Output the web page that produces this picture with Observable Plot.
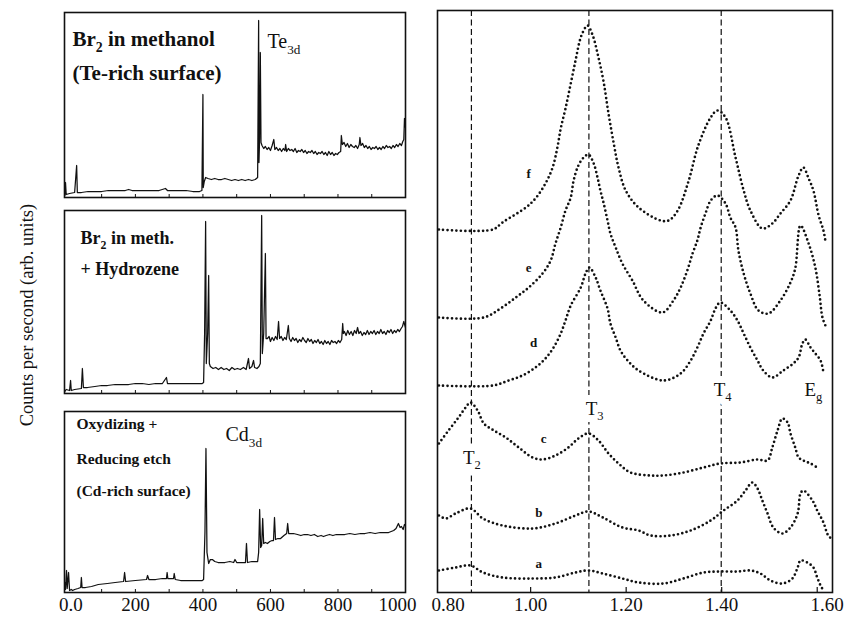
<!DOCTYPE html>
<html><head><meta charset="utf-8">
<script src="https://cdn.jsdelivr.net/npm/d3@7"></script>
<script src="https://cdn.jsdelivr.net/npm/@observablehq/plot@0.6"></script>
<style>
body{margin:0;background:#fff;}
#chart{position:relative;width:856px;height:623px;font-family:"Liberation Serif","Times New Roman",Times,serif;overflow:hidden;}
#chart svg{position:absolute;overflow:visible;}
#chart svg text{font-family:"Liberation Serif","Times New Roman",Times,serif;}
#ylabel{position:absolute;left:-123px;top:304px;width:300px;height:22px;line-height:22px;text-align:center;font-size:18.5px;transform:rotate(-90deg);transform-origin:150px 11px;white-space:nowrap;color:#111;}
</style></head><body><div id="chart"><div id="ylabel">Counts per second (arb. units)</div></div>
<script>
// ---------- Left: survey spectra (binding energy, eV) ----------
const leftTicks = [0, 200, 400, 600, 800, 1000];

const teRich_energy = [-9,-7,-5,5,20,26,28,40,60,80,100,120,150,170,180,190,210,230,250,270,289,295,320,350,370,390,397,400,401,404,408,415,425,435,445,455,465,475,485,495,505,515,525,535,545,555,562,565,566,568,570,572,575,580,585,590,595,600,605,610,613,618,623,628,633,638,643,645,648,653,658,663,668,673,678,683,688,693,698,703,708,713,718,723,728,733,738,743,748,753,758,763,768,773,778,783,788,793,798,803,808,810,813,818,823,828,833,838,843,848,853,858,863,865,868,873,878,883,888,893,898,903,908,913,918,923,928,933,938,943,948,953,958,963,968,973,978,983,988,992,995,997,1000];
const teRich_counts = [2,15,3,4,5,32,5,5,6,6,6,7,7,7,8,7,7,7,7,7,9,7,7,7,6,6,7,103,10,16,20,19,18,19,18,18,19,18,17,18,17,18,17,18,17,18,20,177,35,60,145,55,52,49,51,48,50,47,52,58,48,50,47,49,46,49,47,53,46,49,47,48,46,49,45,47,46,48,45,47,44,46,45,47,44,46,43,45,44,46,43,45,42,46,43,45,42,44,43,45,46,62,53,55,51,54,50,53,51,50,52,49,53,60,52,54,50,52,49,51,48,50,49,51,48,50,48,51,49,52,50,51,49,52,50,53,51,54,52,56,58,79,70];

const hydr_energy = [-9,-5,5,8,10,20,40,43,46,58,80,100,117,140,160,180,200,220,240,260,280,292,295,320,340,360,380,398,402,405,408,410,414,417,419,422,430,438,446,454,462,470,478,486,494,502,511,520,528,535,538,545,550,553,560,566,570,574,576,580,585,587,591,596,600,605,610,615,620,624,627,632,637,642,647,653,656,661,666,671,676,681,686,691,696,701,706,711,716,721,726,731,736,741,746,751,756,761,766,771,776,781,786,791,796,801,806,811,814,816,819,824,829,834,839,844,849,854,858,862,867,872,877,882,887,892,897,902,907,912,917,922,927,932,937,942,947,952,957,962,967,972,977,982,987,991,995,1000];
const hydr_counts = [2,4,3,13,3,4,5,25,6,6,7,8,8,9,9,9,10,10,9,10,10,16,10,10,10,10,10,10,11,60,172,30,60,118,30,27,25,26,24,26,24,25,23,26,24,25,24,26,24,35,25,27,33,26,25,27,30,178,40,60,140,55,55,57,52,56,53,57,54,72,55,57,53,56,54,68,55,52,56,53,55,51,54,52,56,53,51,55,52,54,50,53,51,54,50,52,49,53,50,52,49,53,51,52,50,53,51,54,70,60,62,58,63,59,62,58,63,60,66,60,62,58,61,59,63,59,62,60,63,59,62,60,64,60,62,59,63,61,64,60,63,61,64,62,65,67,72,66];

const cdRich_energy = [-9,-7,-4,-2,2,5,10,14,20,30,38,40,42,52,70,90,117,140,165,168,171,200,233,236,240,260,280,292,294,296,313,315,318,334,360,380,398,402,406,409,412,417,422,428,435,445,452,465,480,491,495,500,510,520,526,529,532,545,555,562,565,568,571,574,577,580,585,591,598,605,609,612,615,622,630,640,648,651,654,660,668,680,690,700,710,720,730,740,750,757,765,775,785,795,808,820,835,850,867,880,895,910,925,940,950,965,972,979,984,988,993,997,1000];
const cdRich_counts = [10,3,22,4,20,2,3,2,3,4,5,15,5,5,6,8,9,10,11,20,11,12,13,17,13,13,14,14,20,14,14,19,13,12,12,12,12,13,60,144,40,29,33,33,31,30,30,30,31,30,33,30,30,30,30,49,30,31,31,31,40,83,45,47,74,49,50,49,51,52,52,75,53,54,54,57,59,69,59,59,59,58,57,58,58,57,58,56,57,56,57,58,57,58,58,58,59,58,59,59,60,59,60,60,60,62,64,69,65,66,63,68,67];

const panelTitles1 = ["Br_2 in methanol", "(Te-rich surface)"];
const panelPeak1 = "Te_3d";
const panelTitles2 = ["Br_2 in meth.", "+ Hydrozene"];
const panelTitles3 = ["Oxydizing +", "Reducing etch", "(Cd-rich surface)"];
const panelPeak3 = "Cd_3d";

// ---------- Right: spectra a-f (photon energy, eV) ----------
const rightTicks = [0.80, 1.00, 1.20, 1.40, 1.60];

const a_energy = [0.808,0.843,0.874,0.900,0.941,1.004,1.052,1.094,1.121,1.151,1.192,1.226,1.278,1.320,1.362,1.397,1.433,1.460,1.481,1.502,1.527,1.548,1.559,1.565,1.579,1.592,1.600,1.607,1.613];
const a_counts = [22,25,27,20,15,14,15,20,22,19,14,10,9,14,20,21,21,22,19,12,9,14,25,32,30,25,15,7,2];

const b_energy = [0.808,0.822,0.843,0.874,0.900,0.941,1.004,1.052,1.094,1.121,1.151,1.192,1.226,1.251,1.293,1.335,1.377,1.404,1.433,1.450,1.464,1.475,1.485,1.496,1.508,1.527,1.544,1.559,1.565,1.571,1.590,1.600,1.613,1.623,1.632];
const b_counts = [77,74,79,84,74,67,64,69,77,81,75,65,62,57,57,62,72,82,92,102,110,104,92,79,65,59,65,79,99,102,92,82,70,57,53];

const c_energy = [0.808,0.828,0.849,0.864,0.874,0.889,0.902,0.923,0.948,0.975,1.004,1.025,1.052,1.079,1.100,1.121,1.142,1.163,1.184,1.209,1.251,1.278,1.320,1.362,1.397,1.439,1.475,1.496,1.506,1.517,1.527,1.538,1.544,1.554,1.561,1.571,1.586,1.603];
const c_counts = [149,162,175,185,190,182,169,162,155,145,135,133,137,145,154,159,152,139,129,120,117,117,120,125,129,130,133,132,145,162,174,170,159,145,135,132,129,124];

const d_energy = [0.808,0.921,0.954,0.983,1.010,1.031,1.048,1.063,1.073,1.084,1.105,1.115,1.123,1.136,1.146,1.161,1.167,1.178,1.188,1.203,1.226,1.278,1.314,1.335,1.349,1.362,1.377,1.387,1.397,1.418,1.433,1.446,1.460,1.475,1.487,1.506,1.529,1.550,1.561,1.569,1.575,1.586,1.596,1.607,1.613];
const d_counts = [207,207,212,217,225,234,245,259,272,287,305,319,325,315,302,284,269,255,242,232,222,212,219,232,245,259,272,284,290,282,272,259,245,232,222,215,222,229,235,249,253,245,239,232,220];

const e_energy = [0.808,0.902,0.937,0.969,0.996,1.025,1.042,1.052,1.063,1.073,1.084,1.090,1.100,1.111,1.121,1.132,1.140,1.146,1.153,1.161,1.167,1.178,1.192,1.213,1.236,1.276,1.299,1.314,1.328,1.339,1.349,1.356,1.366,1.377,1.391,1.408,1.418,1.429,1.435,1.446,1.460,1.477,1.498,1.523,1.544,1.554,1.565,1.582,1.596,1.605,1.611,1.619];
const e_counts = [275,275,284,295,305,319,332,349,365,382,395,412,427,435,438,429,415,402,389,372,359,345,329,312,292,280,292,305,322,339,352,365,379,392,397,389,375,365,342,319,299,282,279,292,310,324,367,349,325,297,275,265];

const f_energy = [0.808,0.921,0.941,0.990,1.010,1.031,1.046,1.056,1.063,1.073,1.084,1.094,1.103,1.109,1.119,1.130,1.142,1.153,1.163,1.174,1.184,1.199,1.226,1.272,1.289,1.308,1.331,1.351,1.377,1.391,1.408,1.429,1.446,1.460,1.485,1.506,1.523,1.544,1.561,1.571,1.582,1.592,1.603,1.613,1.617];
const f_counts = [363,363,370,385,394,409,425,445,464,484,509,532,552,560,567,557,535,510,479,449,425,402,385,372,372,382,412,447,475,482,475,435,402,382,364,369,379,392,417,425,414,402,377,362,352];

const curveNames = ["a", "b", "c", "d", "e", "f"];
const curveLabelEnergy = [1.017, 1.017, 1.027, 1.006, 0.996, 0.996];
const curveLabelCounts = [29, 80, 154, 250, 325, 419];

const transitionEnergy = [0.876, 1.122, 1.399];
const transitionNames = ["T_2", "T_3", "T_4", "E_g"];
const transitionLabelEnergy = [0.877, 1.134, 1.402, 1.592];
const transitionLabelCounts = [135, 184, 203, 203];

// ---------- helpers ----------
const FONT = '"Liberation Serif", "Times New Roman", Times, serif';
const chart = document.getElementById("chart");

function subscripts(svg) {
  d3.select(svg).selectAll("text").each(function () {
    const t = this.textContent;
    if (!t.includes("_")) return;
    const fs = parseFloat(getComputedStyle(this).fontSize) || 16;
    const parts = t.split(/_([0-9a-z]+)/);
    this.textContent = "";
    let shift = 0;
    parts.forEach((p, i) => {
      if (!p) return;
      const ts = d3.select(this).append("tspan").text(p);
      if (i % 2) {
        ts.attr("font-size", fs * 0.66).attr("dy", fs * 0.28 - shift);
        shift = fs * 0.28;
      } else if (shift) {
        ts.attr("dy", -shift);
        shift = 0;
      }
    });
  });
}

function place(svg, left, top) {
  svg.style.left = left + "px";
  svg.style.top = top + "px";
  chart.appendChild(svg);
  subscripts(svg);
}

const axisOpts = {tickSize: 0, tickPadding: 5, fontSize: 19, label: null};

function leftPanel({energy, counts, ymax, height, titles, titleSize, titleDy, titleDx, peak, peakDx, peakDy, axis}) {
  const data = energy.map((e, i) => ({e, c: counts[i]}));
  const marks = [
    Plot.frame({strokeWidth: 1.6}),
    Plot.ruleX(d3.range(100, 1000, 100), {x: d => d, y1: 0, y2: 3, strokeWidth: 1}),
    Plot.line(data, {x: "e", y: "c", strokeWidth: 1.25, clip: true}),
    ...titles.map((t, i) => Plot.text([t], {
      text: d => d, frameAnchor: "top-left", dx: titleDx, dy: titleDy[i],
      textAnchor: "start", lineAnchor: "middle", fontSize: titleSize, fontWeight: "bold"
    }))
  ];
  if (peak) marks.push(Plot.text([peak], {
    text: d => d, frameAnchor: "top-left", dx: peakDx, dy: peakDy,
    textAnchor: "start", lineAnchor: "middle", fontSize: 20
  }));
  if (axis) {
    marks.push(Plot.axisX(leftTicks.slice(1, 5), {...axisOpts, tickFormat: d => String(d)}));
    marks.push(Plot.axisX([leftTicks[0]], {...axisOpts, dx: 3, tickFormat: d => d.toFixed(1)}));
    marks.push(Plot.axisX([leftTicks[5]], {...axisOpts, dx: -8, tickFormat: d => String(d)}));
  }
  return Plot.plot({
    width: 420, height,
    marginLeft: 64, marginRight: 15, marginTop: 2, marginBottom: axis ? 31 : 2,
    x: {domain: [-10, 1000], axis: null, label: null},
    y: {domain: [0, ymax], axis: null, label: null},
    style: {fontFamily: FONT, color: "#111", background: "transparent", overflow: "visible"},
    marks
  });
}

// panel 1
place(leftPanel({
  energy: teRich_energy, counts: teRich_counts, ymax: 185, height: 189,
  titles: panelTitles1, titleSize: 21, titleDx: 8, titleDy: [27, 61],
  peak: panelPeak1, peakDx: 203, peakDy: 29
}), 0, 10);
// panel 2
place(leftPanel({
  energy: hydr_energy, counts: hydr_counts, ymax: 183, height: 187,
  titles: panelTitles2, titleSize: 18, titleDx: 16, titleDy: [28, 59]
}), 0, 208);
// panel 3
place(leftPanel({
  energy: cdRich_energy, counts: cdRich_counts, ymax: 181, height: 214,
  titles: panelTitles3, titleSize: 15.5, titleDx: 12, titleDy: [13, 48, 80],
  peak: panelPeak3, peakDx: 161, peakDy: 23, axis: true
}), 0, 409);

// right panel
const curves = [
  [a_energy, a_counts], [b_energy, b_counts], [c_energy, c_counts],
  [d_energy, d_counts], [e_energy, e_counts], [f_energy, f_counts]
].map(([en, ct], k) => en.map((e, i) => ({e, c: ct[i], name: curveNames[k]})));

const fmt = d => d.toFixed(2);
const tLabel = {
  x: (d, i) => transitionLabelEnergy[i], y: (d, i) => transitionLabelCounts[i],
  text: d => d, fontSize: 19
};
const right = Plot.plot({
  width: 436, height: 623,
  marginLeft: 17, marginRight: 24, marginTop: 10, marginBottom: 31,
  x: {domain: [0.805, 1.632], axis: null, label: null},
  y: {domain: [0, 582], axis: null, label: null},
  style: {fontFamily: FONT, color: "#111", background: "transparent", overflow: "visible"},
  marks: [
    Plot.frame({strokeWidth: 1.6}),
    Plot.ruleX(transitionEnergy, {strokeDasharray: "6,3.5", strokeWidth: 1.2}),
    Plot.ruleX(rightTicks.slice(1), {x: d => d, y1: 0, y2: 5, strokeWidth: 1.2}),
    Plot.text(transitionNames, {...tLabel, fill: "white", stroke: "white", strokeWidth: 14}),
    Plot.text(transitionNames, {...tLabel, fill: "#111"}),
    ...curves.map(data => Plot.line(data, {
      x: "e", y: "c", curve: "catmull-rom",
      strokeWidth: 2.7, strokeDasharray: "0,4.4", strokeLinecap: "round", clip: true
    })),
    Plot.text(curveNames, {
      x: (d, i) => curveLabelEnergy[i], y: (d, i) => curveLabelCounts[i],
      text: d => d, fontSize: 13, fontWeight: "bold"
    }),
    Plot.axisX(rightTicks.slice(1, 4), {...axisOpts, tickFormat: fmt}),
    Plot.axisX([rightTicks[0]], {...axisOpts, dx: 13, tickFormat: fmt}),
    Plot.axisX([rightTicks[4]], {...axisOpts, dx: 10, tickFormat: fmt})
  ]
});
place(right, 420, 0);
</script></body></html>
